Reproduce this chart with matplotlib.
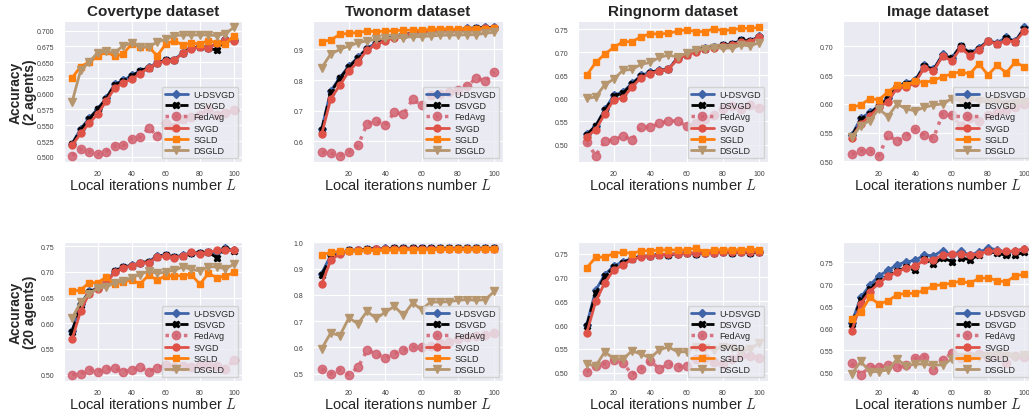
import numpy as np
import matplotlib
matplotlib.use("Agg")
import matplotlib.pyplot as plt
from matplotlib.ticker import MultipleLocator
import seaborn as sns

sns.set_style("darkgrid")
plt.rcParams['font.family'] = ['Liberation Sans', 'DejaVu Sans']
plt.rcParams['mathtext.fontset'] = 'cm'

# local iterations L
x = [5, 10, 15, 20, 25, 30, 35, 40, 45, 50, 55, 60, 65, 70, 75, 80, 85, 90, 95, 100]

datasets = ["Covertype dataset", "Twonorm dataset", "Ringnorm dataset", "Image dataset"]
row_labels = ["Accuracy\n(2 agents)", "Accuracy\n(20 agents)"]
methods = ["U-DSVGD", "DSVGD", "FedAvg", "SVGD", "SGLD", "DSGLD"]

# ---- 2 agents ----
cov2_udsvgd = [0.521, 0.544, 0.561, 0.576, 0.593, 0.615, 0.621, 0.629, 0.636, 0.642, 0.649, 0.654, 0.654, 0.665, 0.672, 0.675, 0.673, 0.679, 0.686, 0.685]
cov2_dsvgd = [0.520, 0.543, 0.560, 0.575, 0.592, 0.614, 0.620, 0.628, 0.636, 0.641, 0.648, 0.653, 0.653, 0.665, 0.672, 0.674, 0.672, 0.669, 0.685, 0.685]
cov2_fedavg = [0.502, 0.512, 0.508, 0.504, 0.508, 0.517, 0.518, 0.529, 0.531, 0.546, 0.533, 0.553, 0.548, 0.560, 0.563, 0.567, 0.575, 0.567, 0.570, 0.574]
cov2_svgd = [0.518, 0.537, 0.553, 0.568, 0.588, 0.609, 0.617, 0.623, 0.632, 0.641, 0.648, 0.652, 0.653, 0.664, 0.671, 0.674, 0.672, 0.680, 0.685, 0.684]
cov2_sgld = [0.625, 0.643, 0.650, 0.659, 0.667, 0.659, 0.663, 0.679, 0.674, 0.674, 0.660, 0.679, 0.684, 0.677, 0.680, 0.679, 0.684, 0.681, 0.679, 0.692]
cov2_dsgld = [0.587, 0.637, 0.650, 0.665, 0.667, 0.665, 0.676, 0.680, 0.674, 0.674, 0.682, 0.686, 0.692, 0.693, 0.693, 0.693, 0.693, 0.692, 0.695, 0.705]

two2_udsvgd = [0.640, 0.764, 0.808, 0.846, 0.874, 0.905, 0.920, 0.933, 0.944, 0.949, 0.953, 0.958, 0.960, 0.961, 0.963, 0.963, 0.969, 0.971, 0.972, 0.972]
two2_dsvgd = [0.636, 0.760, 0.805, 0.843, 0.872, 0.903, 0.918, 0.932, 0.943, 0.948, 0.952, 0.957, 0.959, 0.961, 0.962, 0.963, 0.968, 0.970, 0.971, 0.971]
two2_fedavg = [0.564, 0.561, 0.553, 0.564, 0.586, 0.657, 0.666, 0.652, 0.695, 0.688, 0.737, 0.717, 0.750, 0.755, 0.761, 0.768, 0.779, 0.807, 0.796, 0.827]
two2_svgd = [0.622, 0.739, 0.783, 0.829, 0.860, 0.898, 0.916, 0.928, 0.939, 0.946, 0.953, 0.957, 0.958, 0.960, 0.961, 0.963, 0.966, 0.968, 0.969, 0.970]
two2_sgld = [0.925, 0.931, 0.949, 0.953, 0.955, 0.960, 0.958, 0.960, 0.961, 0.963, 0.963, 0.963, 0.966, 0.967, 0.967, 0.966, 0.967, 0.967, 0.968, 0.969]
two2_dsgld = [0.840, 0.885, 0.900, 0.911, 0.922, 0.928, 0.933, 0.936, 0.939, 0.939, 0.942, 0.942, 0.944, 0.946, 0.947, 0.947, 0.948, 0.948, 0.953, 0.956]

ring2_udsvgd = [0.522, 0.541, 0.576, 0.607, 0.614, 0.633, 0.650, 0.657, 0.661, 0.664, 0.688, 0.696, 0.706, 0.709, 0.712, 0.716, 0.718, 0.727, 0.725, 0.735]
ring2_dsvgd = [0.521, 0.540, 0.574, 0.605, 0.612, 0.631, 0.649, 0.656, 0.660, 0.663, 0.687, 0.695, 0.705, 0.708, 0.711, 0.715, 0.717, 0.726, 0.724, 0.734]
ring2_fedavg = [0.505, 0.476, 0.508, 0.510, 0.519, 0.510, 0.539, 0.537, 0.546, 0.551, 0.551, 0.540, 0.546, 0.556, 0.563, 0.577, 0.583, 0.577, 0.585, 0.580]
ring2_svgd = [0.517, 0.532, 0.567, 0.597, 0.601, 0.625, 0.645, 0.654, 0.659, 0.663, 0.686, 0.694, 0.701, 0.707, 0.710, 0.714, 0.716, 0.723, 0.723, 0.733]
ring2_sgld = [0.650, 0.678, 0.696, 0.711, 0.723, 0.723, 0.734, 0.740, 0.740, 0.741, 0.746, 0.749, 0.745, 0.745, 0.751, 0.747, 0.749, 0.752, 0.752, 0.754]
ring2_dsgld = [0.600, 0.603, 0.630, 0.642, 0.661, 0.663, 0.674, 0.678, 0.689, 0.694, 0.690, 0.698, 0.705, 0.707, 0.709, 0.710, 0.709, 0.716, 0.714, 0.721]

img2_udsvgd = [0.545, 0.575, 0.585, 0.597, 0.611, 0.631, 0.637, 0.641, 0.668, 0.660, 0.686, 0.680, 0.701, 0.689, 0.697, 0.710, 0.706, 0.716, 0.709, 0.733]
img2_dsvgd = [0.543, 0.573, 0.583, 0.596, 0.609, 0.630, 0.635, 0.640, 0.666, 0.659, 0.684, 0.679, 0.700, 0.688, 0.696, 0.709, 0.705, 0.714, 0.708, 0.731]
img2_fedavg = [0.512, 0.518, 0.518, 0.510, 0.546, 0.535, 0.544, 0.556, 0.545, 0.540, 0.583, 0.580, 0.562, 0.575, 0.570, 0.580, 0.585, 0.590, 0.595, 0.600]
img2_svgd = [0.541, 0.565, 0.579, 0.594, 0.604, 0.628, 0.629, 0.637, 0.663, 0.657, 0.683, 0.675, 0.697, 0.684, 0.694, 0.709, 0.704, 0.710, 0.708, 0.727]
img2_sgld = [0.594, 0.598, 0.609, 0.607, 0.621, 0.632, 0.632, 0.640, 0.637, 0.641, 0.647, 0.652, 0.656, 0.652, 0.670, 0.650, 0.667, 0.654, 0.673, 0.664]
img2_dsgld = [0.542, 0.562, 0.571, 0.591, 0.578, 0.600, 0.591, 0.588, 0.594, 0.598, 0.600, 0.609, 0.605, 0.608, 0.605, 0.603, 0.605, 0.600, 0.602, 0.603]

# ---- 20 agents ----
cov20_udsvgd = [0.585, 0.638, 0.662, 0.668, 0.678, 0.702, 0.710, 0.713, 0.718, 0.720, 0.731, 0.733, 0.729, 0.733, 0.737, 0.737, 0.738, 0.738, 0.746, 0.742]
cov20_dsvgd = [0.584, 0.636, 0.661, 0.668, 0.678, 0.701, 0.709, 0.712, 0.718, 0.720, 0.730, 0.733, 0.729, 0.732, 0.737, 0.737, 0.738, 0.728, 0.745, 0.741]
cov20_fedavg = [0.500, 0.501, 0.510, 0.506, 0.511, 0.513, 0.506, 0.510, 0.515, 0.506, 0.513, 0.518, 0.515, 0.517, 0.514, 0.518, 0.519, 0.516, 0.511, 0.529]
cov20_svgd = [0.569, 0.624, 0.658, 0.667, 0.678, 0.699, 0.708, 0.712, 0.718, 0.718, 0.729, 0.731, 0.728, 0.731, 0.738, 0.735, 0.738, 0.742, 0.742, 0.742]
cov20_sgld = [0.662, 0.665, 0.679, 0.679, 0.690, 0.676, 0.681, 0.684, 0.677, 0.694, 0.684, 0.693, 0.692, 0.693, 0.695, 0.676, 0.697, 0.689, 0.692, 0.699]
cov20_dsgld = [0.610, 0.641, 0.657, 0.668, 0.671, 0.679, 0.682, 0.689, 0.695, 0.702, 0.697, 0.700, 0.703, 0.710, 0.705, 0.702, 0.710, 0.710, 0.706, 0.715]

two20_udsvgd = [0.881, 0.951, 0.959, 0.970, 0.970, 0.975, 0.976, 0.977, 0.977, 0.977, 0.977, 0.977, 0.977, 0.977, 0.977, 0.977, 0.977, 0.977, 0.977, 0.977]
two20_dsvgd = [0.877, 0.940, 0.959, 0.969, 0.970, 0.974, 0.976, 0.976, 0.977, 0.977, 0.977, 0.977, 0.977, 0.977, 0.977, 0.977, 0.977, 0.977, 0.977, 0.977]
two20_fedavg = [0.518, 0.499, 0.515, 0.496, 0.524, 0.589, 0.576, 0.560, 0.576, 0.589, 0.600, 0.600, 0.607, 0.617, 0.620, 0.633, 0.638, 0.642, 0.648, 0.655]
two20_svgd = [0.841, 0.931, 0.957, 0.966, 0.970, 0.972, 0.974, 0.975, 0.975, 0.976, 0.976, 0.976, 0.976, 0.976, 0.976, 0.976, 0.976, 0.976, 0.976, 0.976]
two20_sgld = [0.951, 0.962, 0.966, 0.966, 0.968, 0.970, 0.968, 0.970, 0.971, 0.971, 0.972, 0.972, 0.972, 0.973, 0.973, 0.973, 0.973, 0.974, 0.974, 0.974]
two20_dsgld = [0.595, 0.655, 0.645, 0.712, 0.690, 0.737, 0.710, 0.734, 0.756, 0.722, 0.769, 0.744, 0.773, 0.772, 0.774, 0.779, 0.782, 0.779, 0.782, 0.813]

ring20_udsvgd = [0.600, 0.673, 0.706, 0.724, 0.733, 0.740, 0.745, 0.745, 0.749, 0.747, 0.750, 0.752, 0.750, 0.752, 0.752, 0.753, 0.752, 0.753, 0.752, 0.753]
ring20_dsvgd = [0.598, 0.667, 0.702, 0.722, 0.731, 0.739, 0.744, 0.745, 0.748, 0.747, 0.750, 0.751, 0.750, 0.752, 0.752, 0.753, 0.752, 0.753, 0.752, 0.753]
ring20_fedavg = [0.501, 0.515, 0.519, 0.526, 0.521, 0.496, 0.508, 0.525, 0.508, 0.519, 0.512, 0.515, 0.528, 0.532, 0.523, 0.519, 0.528, 0.538, 0.535, 0.531]
ring20_svgd = [0.583, 0.650, 0.689, 0.716, 0.726, 0.738, 0.743, 0.745, 0.747, 0.749, 0.750, 0.751, 0.751, 0.752, 0.752, 0.753, 0.753, 0.753, 0.754, 0.754]
ring20_sgld = [0.720, 0.742, 0.743, 0.750, 0.753, 0.750, 0.756, 0.756, 0.757, 0.758, 0.757, 0.758, 0.761, 0.754, 0.758, 0.758, 0.758, 0.758, 0.759, 0.758]
ring20_dsgld = [0.519, 0.514, 0.544, 0.529, 0.529, 0.546, 0.539, 0.531, 0.548, 0.554, 0.544, 0.544, 0.555, 0.553, 0.548, 0.555, 0.552, 0.545, 0.550, 0.563]

img20_udsvgd = [0.612, 0.670, 0.697, 0.719, 0.731, 0.744, 0.750, 0.754, 0.766, 0.764, 0.776, 0.766, 0.774, 0.766, 0.772, 0.781, 0.778, 0.772, 0.775, 0.779]
img20_dsvgd = [0.609, 0.664, 0.690, 0.708, 0.719, 0.729, 0.738, 0.731, 0.757, 0.745, 0.760, 0.751, 0.760, 0.755, 0.766, 0.774, 0.770, 0.765, 0.766, 0.772]
img20_fedavg = [0.521, 0.495, 0.512, 0.512, 0.517, 0.512, 0.516, 0.532, 0.536, 0.506, 0.528, 0.543, 0.532, 0.538, 0.541, 0.536, 0.539, 0.522, 0.537, 0.536]
img20_svgd = [0.594, 0.655, 0.683, 0.702, 0.718, 0.727, 0.737, 0.740, 0.755, 0.755, 0.766, 0.768, 0.768, 0.766, 0.768, 0.775, 0.774, 0.774, 0.775, 0.780]
img20_sgld = [0.621, 0.636, 0.670, 0.655, 0.662, 0.676, 0.679, 0.679, 0.686, 0.696, 0.699, 0.702, 0.707, 0.702, 0.713, 0.714, 0.708, 0.705, 0.719, 0.722]
img20_dsgld = [0.496, 0.525, 0.502, 0.502, 0.506, 0.530, 0.515, 0.519, 0.519, 0.517, 0.517, 0.530, 0.534, 0.536, 0.535, 0.538, 0.540, 0.538, 0.535, 0.540]

panels = [
    [(cov2_udsvgd, cov2_dsvgd, cov2_fedavg, cov2_svgd, cov2_sgld, cov2_dsgld),
     (two2_udsvgd, two2_dsvgd, two2_fedavg, two2_svgd, two2_sgld, two2_dsgld),
     (ring2_udsvgd, ring2_dsvgd, ring2_fedavg, ring2_svgd, ring2_sgld, ring2_dsgld),
     (img2_udsvgd, img2_dsvgd, img2_fedavg, img2_svgd, img2_sgld, img2_dsgld)],
    [(cov20_udsvgd, cov20_dsvgd, cov20_fedavg, cov20_svgd, cov20_sgld, cov20_dsgld),
     (two20_udsvgd, two20_dsvgd, two20_fedavg, two20_svgd, two20_sgld, two20_dsgld),
     (ring20_udsvgd, ring20_dsvgd, ring20_fedavg, ring20_svgd, ring20_sgld, ring20_dsgld),
     (img20_udsvgd, img20_dsvgd, img20_fedavg, img20_svgd, img20_sgld, img20_dsgld)],
]
ystep = [[0.025, 0.1, 0.05, 0.05], [0.05, 0.1, 0.05, 0.05]]

# line styles per method
styles = [
    dict(color='#3f65a8', ls='-', marker='D', ms=4.5, lw=2),
    dict(color='black', ls='--', marker='X', ms=5, lw=2),
    dict(color='#d2606f', ls=':', marker='o', ms=6, lw=2.5, alpha=0.85),
    dict(color='#de5248', ls='-', marker='o', ms=5, lw=2),
    dict(color='#ff7f0e', ls='-', marker='s', ms=5, lw=2),
    dict(color='#b6966f', ls='-', marker='v', ms=5.5, lw=2),
]

W, H = 1029, 410
fig = plt.figure(figsize=(W / 100, H / 100), dpi=100)

# axes boxes in pixels (last column runs off the right edge like the original)
cols = [(64, 242), (313, 503), (578, 768), (843, 1033)]
rows = [(22, 163), (243, 382)]

for r, (top, bot) in enumerate(rows):
    for c, (lft, rgt) in enumerate(cols):
        ax = fig.add_axes([lft / W, 1 - bot / H, (rgt - lft) / W, (bot - top) / H])
        for k, yv in enumerate(panels[r][c]):
            ax.plot(x, yv, label=methods[k], **styles[k])
        ax.yaxis.set_major_locator(MultipleLocator(ystep[r][c]))
        ax.set_xticks([20, 40, 60, 80, 100])
        ax.tick_params(axis='y', labelsize=5, pad=3.5, colors='.25')
        ax.tick_params(axis='x', labelsize=5, pad=2, colors='.25')
        ax.set_xlabel(r"Local iterations number $L$", fontsize=10.5, labelpad=0)
        if r == 0:
            ax.set_title(datasets[c], fontsize=11, fontweight='bold', pad=4)
        ax.legend(loc='lower right', fontsize=6.5, handlelength=2.6,
                  labelspacing=0.25, framealpha=0.8, borderaxespad=0.4,
                  borderpad=0.35, handletextpad=0.6)
    fig.text(23 / W, 1 - (top + bot) / 2 / H, row_labels[r], rotation=90,
             ha='center', va='center', fontsize=10, fontweight='bold',
             linespacing=1.05)

plt.savefig("out.png", dpi=100)
plt.close()
